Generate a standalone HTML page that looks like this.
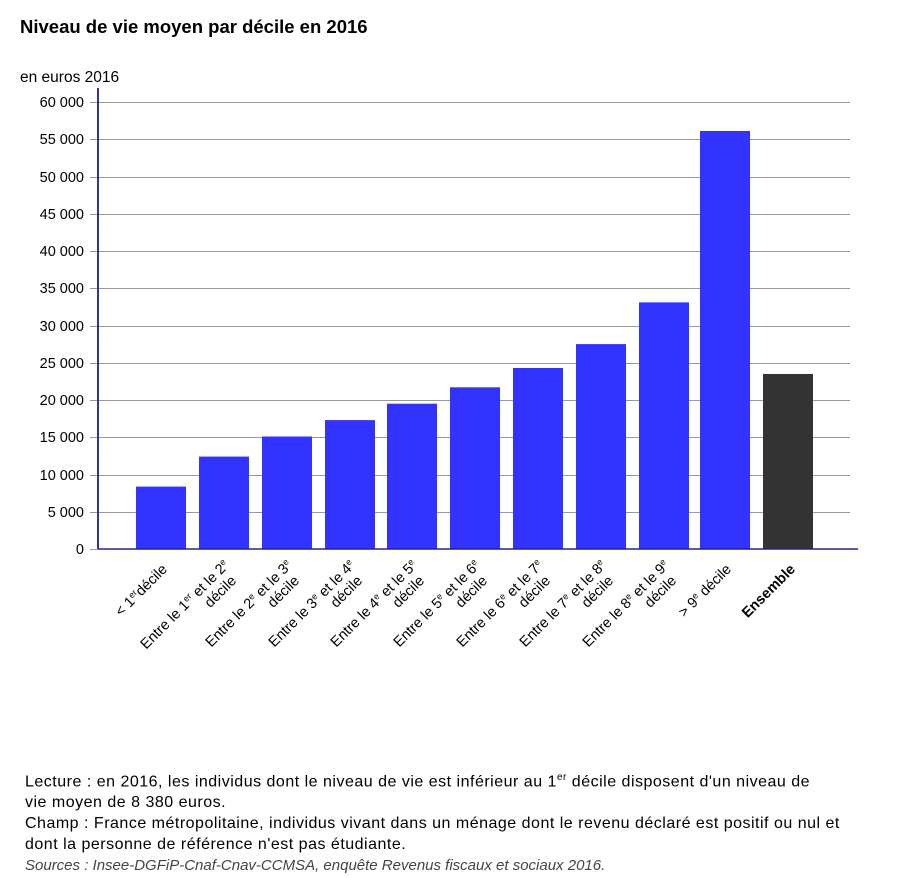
<!DOCTYPE html>
<html><head><meta charset="utf-8"><style>
body{margin:0;background:#fff;font-family:"Liberation Sans",sans-serif;color:#000;}
.wrap{position:relative;width:901px;height:878px;overflow:hidden;}
.title{position:absolute;left:20px;top:16px;font-weight:bold;font-size:18.5px;}
.foot{position:absolute;left:25px;top:767px;font-size:16px;line-height:21px;white-space:nowrap;letter-spacing:0.5px;}
sup{font-size:10px;}
</style></head><body><div class="wrap">
<div class="title">Niveau de vie moyen par décile en 2016</div>
<svg width="901" height="760" style="position:absolute;left:0;top:0" font-family="Liberation Sans, sans-serif" font-size="14.5">
<text x="20" y="82" font-size="15.5">en euros 2016</text>
<g stroke="#999" stroke-width="1">
<line x1="98" x2="850" y1="102.5" y2="102.5"/><line x1="98" x2="850" y1="139.5" y2="139.5"/>
<line x1="98" x2="850" y1="177.5" y2="177.5"/><line x1="98" x2="850" y1="214.5" y2="214.5"/>
<line x1="98" x2="850" y1="251.5" y2="251.5"/><line x1="98" x2="850" y1="288.5" y2="288.5"/>
<line x1="98" x2="850" y1="326.5" y2="326.5"/><line x1="98" x2="850" y1="363.5" y2="363.5"/>
<line x1="98" x2="850" y1="400.5" y2="400.5"/><line x1="98" x2="850" y1="437.5" y2="437.5"/>
<line x1="98" x2="850" y1="475.5" y2="475.5"/><line x1="98" x2="850" y1="512.5" y2="512.5"/>
<line x1="90" x2="98" y1="102.5" y2="102.5"/><line x1="90" x2="98" y1="139.5" y2="139.5"/>
<line x1="90" x2="98" y1="177.5" y2="177.5"/><line x1="90" x2="98" y1="214.5" y2="214.5"/>
<line x1="90" x2="98" y1="251.5" y2="251.5"/><line x1="90" x2="98" y1="288.5" y2="288.5"/>
<line x1="90" x2="98" y1="326.5" y2="326.5"/><line x1="90" x2="98" y1="363.5" y2="363.5"/>
<line x1="90" x2="98" y1="400.5" y2="400.5"/><line x1="90" x2="98" y1="437.5" y2="437.5"/>
<line x1="90" x2="98" y1="475.5" y2="475.5"/><line x1="90" x2="98" y1="512.5" y2="512.5"/>
<line x1="90" x2="98" y1="549.5" y2="549.5"/>
</g>
<g text-anchor="end">
<text x="84" y="107">60 000</text><text x="84" y="144">55 000</text><text x="84" y="182">50 000</text>
<text x="84" y="219">45 000</text><text x="84" y="256">40 000</text><text x="84" y="293">35 000</text>
<text x="84" y="331">30 000</text><text x="84" y="368">25 000</text><text x="84" y="405">20 000</text>
<text x="84" y="442">15 000</text><text x="84" y="480">10 000</text><text x="84" y="517">5 000</text>
<text x="84" y="554">0</text>
</g>
<g fill="#3333ff">
<rect x="136" y="486.6" width="50" height="62.4"/>
<rect x="199" y="456.6" width="50" height="92.4"/>
<rect x="262" y="436.5" width="50" height="112.5"/>
<rect x="325" y="420.1" width="50" height="128.9"/>
<rect x="387" y="403.7" width="50" height="145.3"/>
<rect x="450" y="387.3" width="50" height="161.7"/>
<rect x="513" y="368" width="50" height="181"/>
<rect x="576" y="344.1" width="50" height="204.9"/>
<rect x="639" y="302.4" width="50" height="246.6"/>
<rect x="700" y="131" width="50" height="418"/>
</g>
<rect x="763" y="374" width="50" height="175" fill="#333"/>
<line x1="98" x2="858" y1="549" y2="549" stroke="#222288" stroke-width="1.5"/>
<line x1="98" x2="98" y1="88" y2="549" stroke="#333399" stroke-width="2"/>
<g text-anchor="end" font-size="14.5">
<text transform="translate(168,570) rotate(-45)">&lt; 1<tspan font-size="9" dy="-5">er</tspan><tspan dy="5">décile</tspan></text>
<text transform="translate(732,570) rotate(-45)">&gt; 9<tspan font-size="9" dy="-5">e</tspan><tspan dy="5"> décile</tspan></text>
<text transform="translate(796,570) rotate(-45)" font-weight="bold">Ensemble</text>
<text transform="translate(230,566) rotate(-45)">Entre le 1<tspan font-size="9" dy="-5">er</tspan><tspan dy="5"> et le 2</tspan><tspan font-size="9" dy="-5">e</tspan><tspan x="-6" dy="21">décile</tspan></text>
<text transform="translate(293,566) rotate(-45)">Entre le 2<tspan font-size="9" dy="-5">e</tspan><tspan dy="5"> et le 3</tspan><tspan font-size="9" dy="-5">e</tspan><tspan x="-6" dy="21">décile</tspan></text>
<text transform="translate(356,566) rotate(-45)">Entre le 3<tspan font-size="9" dy="-5">e</tspan><tspan dy="5"> et le 4</tspan><tspan font-size="9" dy="-5">e</tspan><tspan x="-6" dy="21">décile</tspan></text>
<text transform="translate(418,566) rotate(-45)">Entre le 4<tspan font-size="9" dy="-5">e</tspan><tspan dy="5"> et le 5</tspan><tspan font-size="9" dy="-5">e</tspan><tspan x="-6" dy="21">décile</tspan></text>
<text transform="translate(481,566) rotate(-45)">Entre le 5<tspan font-size="9" dy="-5">e</tspan><tspan dy="5"> et le 6</tspan><tspan font-size="9" dy="-5">e</tspan><tspan x="-6" dy="21">décile</tspan></text>
<text transform="translate(544,566) rotate(-45)">Entre le 6<tspan font-size="9" dy="-5">e</tspan><tspan dy="5"> et le 7</tspan><tspan font-size="9" dy="-5">e</tspan><tspan x="-6" dy="21">décile</tspan></text>
<text transform="translate(607,566) rotate(-45)">Entre le 7<tspan font-size="9" dy="-5">e</tspan><tspan dy="5"> et le 8</tspan><tspan font-size="9" dy="-5">e</tspan><tspan x="-6" dy="21">décile</tspan></text>
<text transform="translate(670,566) rotate(-45)">Entre le 8<tspan font-size="9" dy="-5">e</tspan><tspan dy="5"> et le 9</tspan><tspan font-size="9" dy="-5">e</tspan><tspan x="-6" dy="21">décile</tspan></text>
</g>
</svg>
<div class="foot">Lecture : en 2016, les individus dont le niveau de vie est inférieur au 1<sup>er</sup> décile disposent d'un niveau de<br>vie moyen de 8 380 euros.<br>Champ : France métropolitaine, individus vivant dans un ménage dont le revenu déclaré est positif ou nul et<br>dont la personne de référence n'est pas étudiante.<br><i style="color:#444;font-size:15px;letter-spacing:0">Sources : Insee-DGFiP-Cnaf-Cnav-CCMSA, enquête Revenus fiscaux et sociaux 2016.</i></div>
</div></body></html>
